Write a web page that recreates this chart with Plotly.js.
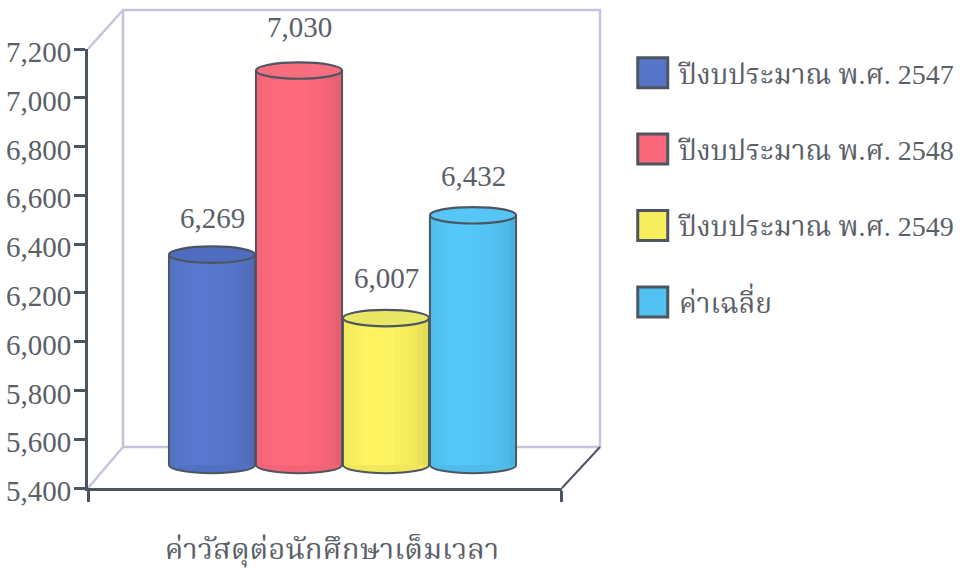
<!DOCTYPE html>
<html>
<head>
<meta charset="utf-8">
<script src="https://cdn.plot.ly/plotly-3.0.1.min.js"></script>
<style>html,body{margin:0;padding:0;background:#fff}#c{width:964px;height:570px}</style>
</head>
<body>
<div id="c"></div>
<script>
const seriesNames = ["ปีงบประมาณ พ.ศ. 2547", "ปีงบประมาณ พ.ศ. 2548", "ปีงบประมาณ พ.ศ. 2549", "ค่าเฉลี่ย"];
const seriesValues = [6269, 7030, 6007, 6432];
const valueLabels = ["6,269", "7,030", "6,007", "6,432"];
const seriesColors = ["#5674c8", "#f9677a", "#f7ee5e", "#52c2f2"];
const capColors = ["#4f6cbf", "#f76f7e", "#e9e866", "#55c6f5"];
const yTicks = [5400, 5600, 5800, 6000, 6200, 6400, 6600, 6800, 7000, 7200];
const axisTitle = "ค่าวัสดุต่อนักศึกษาเต็มเวลา";
const labelShifts = [19, 26, 22, 21];

const W = 964, H = 570, L = 88, R = 562, T = 49, B = 488;
const px = x => (x - L) / (R - L);
const py = y => (B - y) / (B - T);
const INK = "#4d5560", TXT = "#5a6068", WALL = "#c6c4da";
const FONT = "'Liberation Serif','Noto Serif Thai','Noto Sans Thai',serif";
const floorVal = 5400, capH = 34;
const shades = [0.98, 1.0, 1.01, 1.02, 1.03, 1.03, 1.03, 1.02, 1.02, 1.01, 1.0, 0.99, 0.97, 0.95, 0.92];

function mix(hex, k) {
  const n = parseInt(hex.slice(1), 16);
  const c = [n >> 16, (n >> 8) & 255, n & 255].map(v => Math.max(0, Math.min(255, Math.round(v * k))));
  return `rgb(${c.join(",")})`;
}

const traces = [{x: [null], y: [null], type: "scatter", mode: "lines", showlegend: false, hoverinfo: "skip"}];

seriesNames.forEach((name, i) => {
  traces.push({
    type: "bar", name, legendgroup: "g" + i, x: [i], y: [seriesValues[i] - floorVal], base: floorVal, width: 0.98,
    yaxis: "y2", marker: {color: seriesColors[i], line: {color: INK, width: 0}}, showlegend: true
  });
  const n = shades.length, w = 0.98 / n;
  shades.forEach((s, j) => {
    traces.push({
      type: "bar", x: [i - 0.49 + w * (j + 0.5)], y: [seriesValues[i] - floorVal], base: floorVal, width: w * 1.05,
      yaxis: "y2", marker: {color: mix(seriesColors[i], s), line: {width: 0}}, showlegend: false, hoverinfo: "skip"
    });
  });
  [-0.495, 0.495].forEach(off => traces.push({
    type: "scatter", mode: "lines", x: [i + off, i + off], y: [floorVal, seriesValues[i]], yaxis: "y2",
    line: {color: INK, width: 2}, showlegend: false, hoverinfo: "skip"
  }));
});

const wall = {color: WALL, width: 2.5};
const shapes = [
  {type: "rect", xref: "paper", yref: "paper", x0: px(123), x1: px(600), y0: py(447), y1: py(10), line: wall, fillcolor: "#ffffff", layer: "below"},
  {type: "line", xref: "paper", yref: "paper", x0: px(88), y0: py(49), x1: px(123), y1: py(10), line: wall, layer: "below"},
  {type: "line", xref: "paper", yref: "paper", x0: px(88), y0: py(488), x1: px(123), y1: py(447), line: wall, layer: "below"},
  {type: "line", xref: "paper", yref: "paper", x0: px(562), y0: py(488), x1: px(600), y1: py(447), line: {color: INK, width: 2}, layer: "below"}
];
seriesValues.forEach((v, i) => {
  shapes.push({type: "circle", xref: "x", yref: "y2", x0: i - 0.495, x1: i + 0.495, y0: floorVal - capH, y1: floorVal + capH,
    fillcolor: mix(seriesColors[i], 0.97), line: {color: INK, width: 2}, layer: "below"});
  shapes.push({type: "circle", xref: "x", yref: "y2", x0: i - 0.495, x1: i + 0.495, y0: v - capH, y1: v + capH,
    fillcolor: capColors[i], line: {color: INK, width: 2.2}, layer: "above"});
});

const annotations = seriesValues.map((v, i) => ({
  x: i, y: v, xref: "x", yref: "y2", text: valueLabels[i], showarrow: false, yanchor: "bottom", yshift: labelShifts[i],
  font: {family: FONT, size: 29, color: TXT}
}));

const layout = {
  width: W, height: H, margin: {l: L, r: W - R, t: T, b: H - B, pad: 0, autoexpand: false},
  paper_bgcolor: "#ffffff", plot_bgcolor: "rgba(0,0,0,0)", barmode: "overlay", hovermode: false,
  font: {family: FONT, color: TXT},
  showlegend: true,
  legend: {x: px(632), y: py(48), xanchor: "left", yanchor: "top", font: {family: FONT, size: 28, color: TXT},
    itemwidth: 37, tracegroupgap: 37, bgcolor: "rgba(0,0,0,0)", itemclick: false, itemdoubleclick: false},
  xaxis: {
    range: [(L - 212) / 87, (R - 212) / 87], showgrid: false, zeroline: false, showline: true, linecolor: INK, linewidth: 3,
    tickmode: "array", tickvals: [(L - 212) / 87 + 0.01, (R - 212) / 87 - 0.01], ticktext: ["", ""], ticks: "outside", ticklen: 11, tickwidth: 2.5, tickcolor: INK,
    title: {text: axisTitle, font: {family: FONT, size: 29.3, color: TXT}, standoff: 36}, automargin: false
  },
  yaxis: {
    range: [5400, 7200], tickmode: "array", tickvals: yTicks, tickformat: ",d", showgrid: false, zeroline: false,
    showline: true, linecolor: INK, linewidth: 3, ticks: "outside", ticklen: 11, tickwidth: 2.5, tickcolor: INK,
    ticklabelstandoff: -3, ticklabelshift: 3,
    tickfont: {family: FONT, size: 29, color: TXT}, automargin: false
  },
  yaxis2: {range: [floorVal - 23 / 0.242, floorVal + 416 / 0.242], overlaying: "y", visible: false, fixedrange: true},
  shapes, annotations
};

Plotly.newPlot("c", traces, layout, {displayModeBar: false}).then(() => {
  document.querySelectorAll("#c .legend .legendpoints").forEach(g => {
    g.setAttribute("transform", "translate(-8,0) translate(20,0) scale(2.5) translate(-20,0)");
  });
  document.querySelectorAll("#c .legend .legendpoints path").forEach(p => {
    p.style.strokeWidth = "1.2px"; p.style.stroke = INK;
  });
  const t = document.querySelector("#c .xtitle");
  if (t) t.setAttribute("transform", "translate(7,0)");
});
</script>
</body>
</html>
